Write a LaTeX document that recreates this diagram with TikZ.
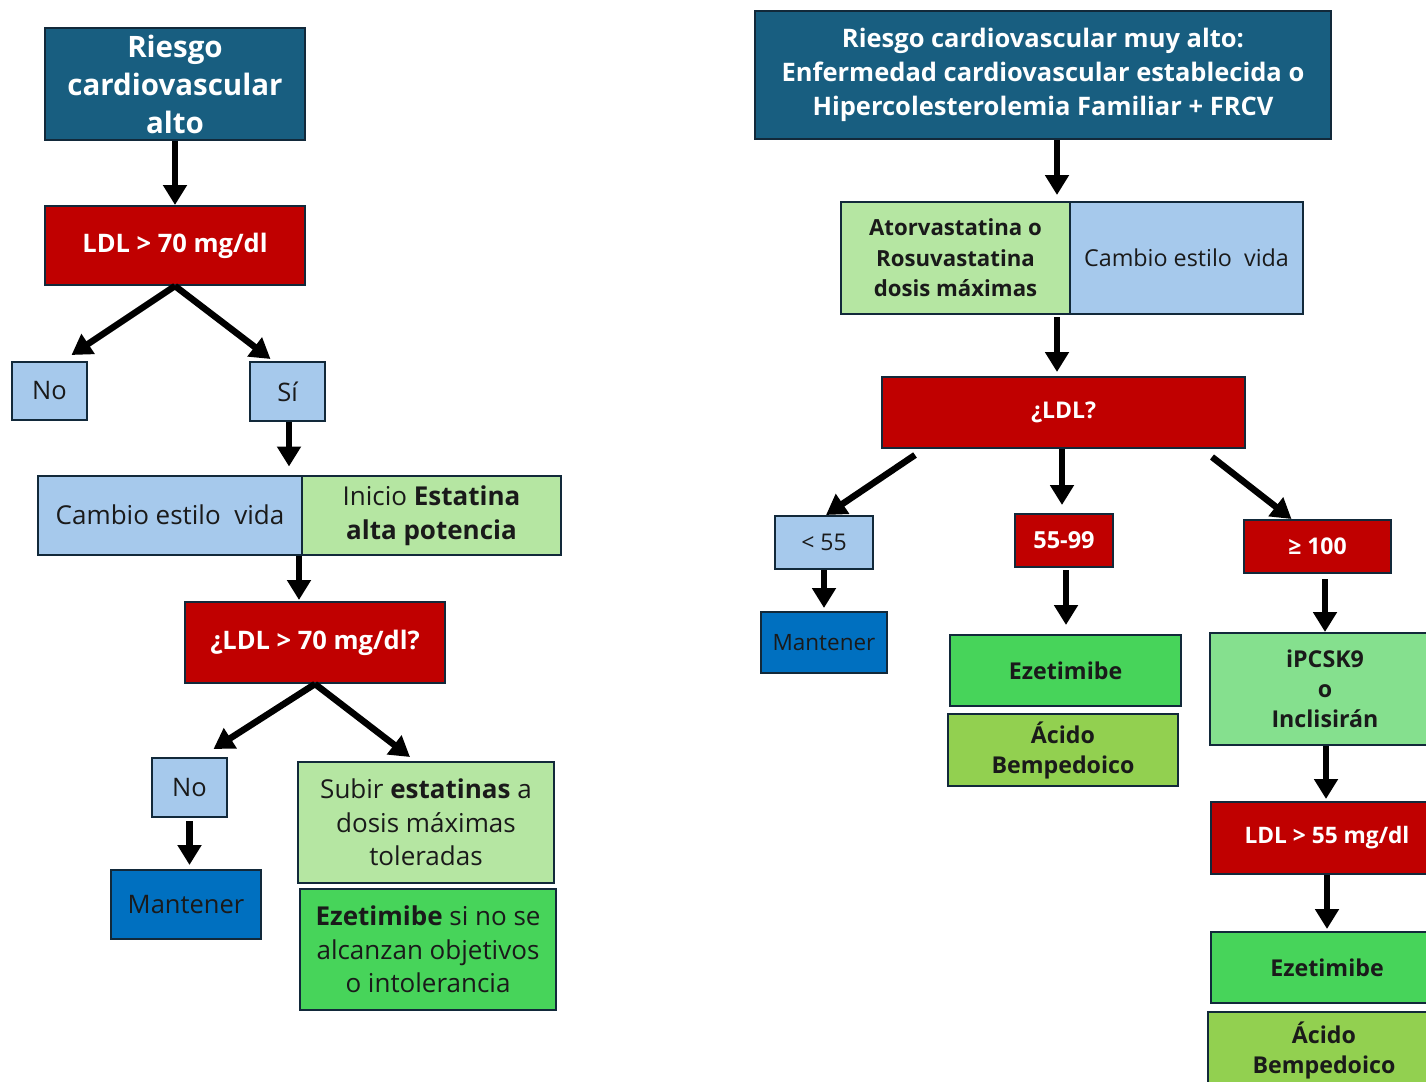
\documentclass[tikz,border=0pt]{standalone}
\usepackage{fontspec}
\setmainfont{Open Sans}
\usepackage{xcolor}
\usetikzlibrary{arrows.meta}
\definecolor{riesgoazul}{HTML}{185E80}
\definecolor{rojoldl}{HTML}{C00000}
\definecolor{celeste}{HTML}{A6C9EC}
\definecolor{verdeclaro}{HTML}{B5E6A2}
\definecolor{verde}{HTML}{47D45A}
\definecolor{lima}{HTML}{92D050}
\definecolor{menta}{HTML}{85E08E}
\definecolor{azulmant}{HTML}{0070C0}
\definecolor{borde}{HTML}{12293A}
\definecolor{tinta}{HTML}{1A1A1A}
\tikzset{
	caja/.style={draw=borde, line width=2pt, inner sep=0pt, align=center, text=tinta},
	cajariesgo/.style={caja, fill=riesgoazul, text=white, font=\bfseries},
	cajaroja/.style={caja, fill=rojoldl, text=white, font=\bfseries},
	cajaceleste/.style={caja, fill=celeste},
	cajaverdeclaro/.style={caja, fill=verdeclaro},
	cajaverde/.style={caja, fill=verde},
	cajalima/.style={caja, fill=lima, font=\bfseries},
	cajamenta/.style={caja, fill=menta, font=\bfseries},
	cajamant/.style={caja, fill=azulmant},
	flecha/.style={line width=6.5pt, -{Triangle[width=23pt,length=20pt]}}
}
\newcommand{\tam}[2]{\fontsize{#1}{#2}\selectfont}
\begin{document}
\begin{tikzpicture}[x=1pt,y=-1pt]
				\useasboundingbox (0,0) rectangle (1426,1081);
				\clip (0,0) rectangle (1426,1081);
				\node [cajariesgo, minimum width=260pt, minimum height=112pt, font=\bfseries\tam{29.5}{38}] (riesgoA) at (175,84) {Riesgo\\cardiovascular\\alto};
				\node [cajaroja, minimum width=260pt, minimum height=79pt, font=\bfseries\tam{25.5}{30}] (ldlA) at (175,245.5) {LDL > 70 mg/dl};
				\node [cajaceleste, minimum width=75pt, minimum height=58pt, font=\tam{25.5}{30}] (noA) at (49.5,391) {No};
				\node [cajaceleste, minimum width=75pt, minimum height=59pt, font=\tam{25.5}{30}] (siA) at (287.5,391.5) {Sí};
				\node [cajaceleste, minimum width=264pt, minimum height=79pt, font=\tam{26}{34}] (cambioA) at (170,515) {Cambio estilo\ \ vida};
				\node [cajaverdeclaro, minimum width=259pt, minimum height=79pt, font=\tam{26}{34}] (inicioA) at (431.5,515.5) {Inicio \textbf{Estatina}\\\textbf{alta potencia}};
				\node [cajaroja, minimum width=260pt, minimum height=81pt, font=\bfseries\tam{25.5}{30}] (ldlB) at (315,642.5) {¿LDL > 70 mg/dl?};
				\node [cajaceleste, minimum width=75pt, minimum height=59pt, font=\tam{25.5}{30}] (noB) at (189.5,787.5) {No};
				\node [cajamant, minimum width=150pt, minimum height=69pt, font=\tam{25.5}{30}] (mantA) at (186,904.5) {Mantener};
				\node [cajaverdeclaro, minimum width=256pt, minimum height=121pt, font=\tam{26}{33.5}] (subir) at (426,822.5) {Subir \textbf{estatinas} a\\dosis máximas\\toleradas};
				\node [cajaverde, minimum width=256pt, minimum height=121pt, font=\tam{26}{33.5}] (ezetA) at (428,949.5) {\textbf{Ezetimibe} si no se\\alcanzan objetivos\\o intolerancia};
				\node [cajariesgo, minimum width=576pt, minimum height=128pt, font=\bfseries\tam{25.5}{34}] (riesgoB) at (1043,75) {Riesgo cardiovascular muy alto:\\Enfermedad cardiovascular establecida o\\Hipercolesterolemia Familiar + FRCV};
				\node [cajaverdeclaro, minimum width=229pt, minimum height=112pt, font=\bfseries\tam{22.2}{30.5}] (atorB) at (955.5,258) {Atorvastatina o\\Rosuvastatina\\dosis máximas};
				\node [cajaceleste, minimum width=233pt, minimum height=112pt, font=\tam{23.3}{30}] (cambioB) at (1186.5,258) {Cambio estilo\ \ vida};
				\node [cajaroja, minimum width=363pt, minimum height=71pt, font=\bfseries\tam{23}{30}] (ldlC) at (1063.5,412.5) {¿LDL?};
				\node [cajaceleste, minimum width=98pt, minimum height=53pt, font=\tam{23}{30}] (menor55) at (824,542.5) {< 55};
				\node [cajamant, minimum width=126pt, minimum height=61pt, font=\tam{22.5}{30}] (mantB) at (824,642.5) {Mantener};
				\node [cajaroja, minimum width=98pt, minimum height=53pt, font=\bfseries\tam{23.5}{30}] (medio) at (1064,540.5) {55-99};
				\node [cajaverde, minimum width=231pt, minimum height=71pt, font=\bfseries\tam{23.2}{30}] (ezetB) at (1065.5,670.5) {Ezetimibe};
				\node [cajalima, minimum width=230pt, minimum height=72pt, font=\bfseries\tam{23.2}{30}] (acidoA) at (1063,750) {Ácido\\Bempedoico};
				\node [cajaroja, minimum width=147pt, minimum height=53pt, font=\bfseries\tam{23}{30}] (mayor100) at (1317.5,546.5) {≥ 100};
				\node [cajamenta, minimum width=230pt, minimum height=112pt, font=\bfseries\tam{23.2}{30}] (ipcsk) at (1325,689) {iPCSK9\\o\\Inclisirán};
				\node [cajaroja, minimum width=232pt, minimum height=72pt, font=\bfseries\tam{22.7}{30}] (ldlD) at (1327,838) {LDL > 55 mg/dl};
				\node [cajaverde, minimum width=232pt, minimum height=71pt, font=\bfseries\tam{23.2}{30}] (ezetC) at (1327,967.5) {Ezetimibe};
				\node [cajalima, minimum width=232pt, minimum height=76pt, font=\bfseries\tam{23.2}{30}] (acidoB) at (1324,1050) {Ácido\\Bempedoico};
				\draw [flecha] (riesgoA.south) -- (ldlA.north);
				\draw [flecha] (ldlA.south) -- ([xshift=22pt,yshift=6pt]noA.north);
				\draw [flecha] (ldlA.south) -- ([xshift=-17pt,yshift=2pt]siA.north);
				\draw [flecha, shorten >=8pt] ([xshift=1.5pt]siA.south) -- ([xshift=1.5pt]siA.south |- cambioA.north);
				\draw [flecha, shorten >=1pt] ([xshift=-4pt]cambioA.south east) -- ([xshift=-4pt]cambioA.south east |- ldlB.north);
				\draw [flecha] (ldlB.south) -- ([xshift=24pt,yshift=8pt]noB.north);
				\draw [flecha] (ldlB.south) -- ([xshift=-16pt,yshift=4pt]subir.north);
				\draw [flecha, shorten <=3pt, shorten >=4pt] (noB.south) -- (noB.south |- mantA.north);
				\draw [flecha, shorten >=6pt] ([xshift=14pt]riesgoB.south) -- ([xshift=14pt]riesgoB.south |- atorB.north);
				\draw [flecha, shorten <=2pt, shorten >=4pt] ([xshift=-14pt]atorB.south east) -- ([xshift=-14pt]atorB.south east |- ldlC.north);
				\draw [flecha] ([xshift=34pt,yshift=-6pt]ldlC.south west) -- ([xshift=2pt]menor55.north);
				\draw [flecha, shorten >=8pt] ([xshift=-1.5pt]ldlC.south) -- ([xshift=-1.5pt]ldlC.south |- medio.north);
				\draw [flecha] ([xshift=-34pt,yshift=-8pt]ldlC.south east) -- ([xshift=-26pt]mayor100.north);
				\draw [flecha, shorten >=3pt] (menor55.south) -- (mantB.north);
				\draw [flecha, shorten <=2pt, shorten >=9pt] ([xshift=2pt]medio.south) -- ([xshift=2pt]medio.south |- ezetB.north);
				\draw [flecha, shorten <=5pt] (ipcsk.north |- mayor100.south) -- (ipcsk.north);
				\draw [flecha, shorten >=2pt] ([xshift=1pt]ipcsk.south) -- ([xshift=1pt]ipcsk.south |- ldlD.north);
				\draw [flecha, shorten >=2pt] (ldlD.south) -- (ezetC.north);
\end{tikzpicture}
\end{document}
